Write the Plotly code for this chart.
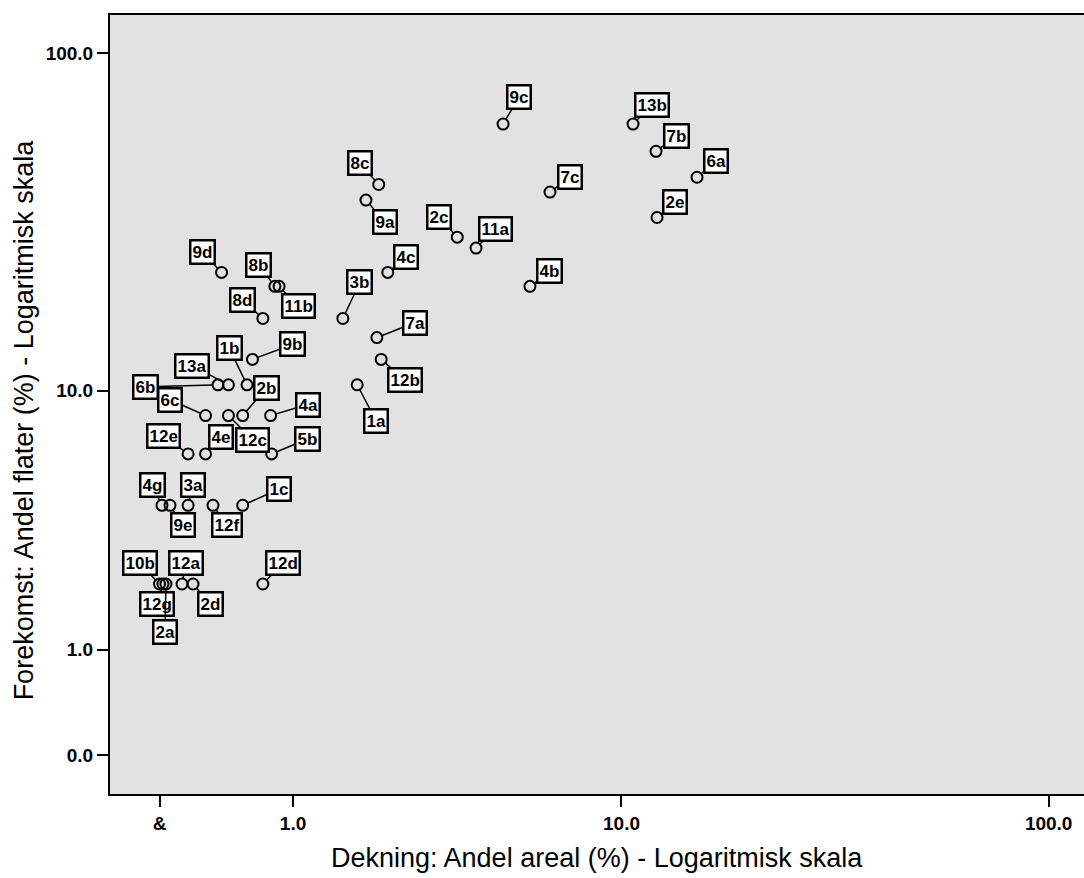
import numpy as np
import plotly.graph_objects as go

# ---- data (percent values) ----
labels = ["9c", "13b", "7b", "6a", "2e", "7c", "8c", "9a", "2c", "11a",
          "4c", "4b", "3b", "7a", "12b", "1a", "9d", "8b", "11b", "8d",
          "9b", "1b", "13a", "6b", "6c", "12c", "2b", "4a", "12e", "4e",
          "5b", "4g", "9e", "3a", "12f", "1c", "10b", "12g", "2a", "12a",
          "2d", "12d"]
dekning = [4.95, 10.68, 12.16, 15.28, 12.23, 6.59, 2.12, 1.92, 3.69, 4.17,
           2.27, 5.84, 1.59, 2.09, 2.16, 1.79, 0.38, 0.82, 0.86, 0.71,
           0.62, 0.575, 0.43, 0.355, 0.27, 0.43, 0.54, 0.78, 0.16, 0.27,
           0.79, 0.013, 0.056, 0.16, 0.32, 0.54, 0.0, 0.018, 0.034, 0.124,
           0.19, 0.71]
forekomst = [62.5, 62.5, 52.08, 43.75, 33.33, 39.58, 41.67, 37.5, 29.17, 27.08,
             22.92, 20.83, 16.67, 14.58, 12.5, 10.42, 22.92, 20.83, 20.83, 16.67,
             12.5, 10.42, 10.42, 10.42, 8.33, 8.33, 8.33, 8.33, 6.25, 6.25,
             6.25, 4.17, 4.17, 4.17, 4.17, 4.17, 2.08, 2.08, 2.08, 2.08,
             2.08, 2.08]

x_tick_values = [0.0, 1.0, 10.0, 100.0]
x_tick_labels = ["&", "1.0", "10.0", "100.0"]
y_tick_values = [0.0, 1.0, 10.0, 100.0]
y_tick_labels = ["0.0", "1.0", "10.0", "100.0"]

x_title = "Dekning: Andel areal (%) - Logaritmisk skala"
y_title = "Forekomst: Andel flater (%) - Logaritmisk skala"

# ---- label placement (pixel offsets of the label boxes from their points) ----
label_offsets = [(16, -27), (19, -19), (20, -15), (19, -16), (18, -16), (20, -15),
                 (-19, -21), (19, 22), (-18, -20), (19, -19), (18, -15), (20, -15),
                 (17, -36), (38, -15), (24, 21), (19, 36), (-19, -20), (-16, -21),
                 (19, 20), (-20, -18), (40, -15), (-18, -37), (-36, -19), (-73, 2),
                 (-36, -16), (24, 24), (24, -28), (37, -11), (-25, -18), (15, -17),
                 (36, -15), (-10, -20), (13, 20), (5, -20), (14, 20), (36, -16),
                 (-20, -21), (-6, 20), (-1, 48), (4, -21), (17, 20), (20, -21)]


def tr(v):
    # log scale that keeps zero: log10(v + 1)
    return np.log10(np.asarray(v, dtype=float) + 1.0)


X = tr(dekning)
Y = tr(forekomst)

FONT = "Arial, Liberation Sans, Helvetica, sans-serif"

fig = go.Figure()
fig.add_trace(go.Scatter(
    x=X, y=Y, mode="markers",
    marker=dict(symbol="circle-open", size=11, color="black",
                line=dict(width=2, color="black")),
    hoverinfo="text", text=labels, showlegend=False,
))

annotations = []
for lab, xv, yv, (dx, dy) in zip(labels, X, Y, label_offsets):
    annotations.append(dict(
        x=xv, y=yv, xref="x", yref="y", ax=dx, ay=dy,
        text="<b>" + lab + "</b>", showarrow=True, arrowhead=0, arrowwidth=1.5,
        arrowcolor="black", standoff=5,
        bgcolor="white", bordercolor="black", borderwidth=2.5, borderpad=1,
        font=dict(family=FONT, size=17, color="black"),
    ))

annotations.append(dict(
    text=x_title, xref="paper", yref="paper", x=0.5, y=-0.082,
    xanchor="center", yanchor="middle", showarrow=False,
    font=dict(family=FONT, size=27, color="black"),
))
annotations.append(dict(
    text=y_title, xref="paper", yref="paper", x=-0.088, y=0.48,
    xanchor="center", yanchor="middle", showarrow=False, textangle=-90,
    font=dict(family=FONT, size=27, color="black"),
))

fig.update_layout(
    width=1084, height=878,
    margin=dict(l=110, r=0, t=15, b=84),
    paper_bgcolor="white", plot_bgcolor="#e2e2e2",
    font=dict(family=FONT, color="black"),
    annotations=annotations,
    showlegend=False,
)
fig.update_xaxes(
    range=[-0.1116, 2.084], showgrid=False, zeroline=False,
    showline=True, linewidth=2, linecolor="black", mirror=True,
    ticks="outside", ticklen=11, tickwidth=2, tickcolor="black",
    tickvals=tr(x_tick_values), ticktext=["<b>" + t + "</b>" for t in x_tick_labels],
    tickfont=dict(family=FONT, size=19, color="black"),
)
fig.update_yaxes(
    range=[-0.1114, 2.1143], showgrid=False, zeroline=False,
    showline=True, linewidth=2, linecolor="black", mirror=False,
    ticks="outside", ticklen=11, tickwidth=2, tickcolor="black",
    tickvals=tr(y_tick_values), ticktext=["<b>" + t + "</b>" for t in y_tick_labels],
    tickfont=dict(family=FONT, size=19, color="black"),
)

fig.write_html("out.html")
